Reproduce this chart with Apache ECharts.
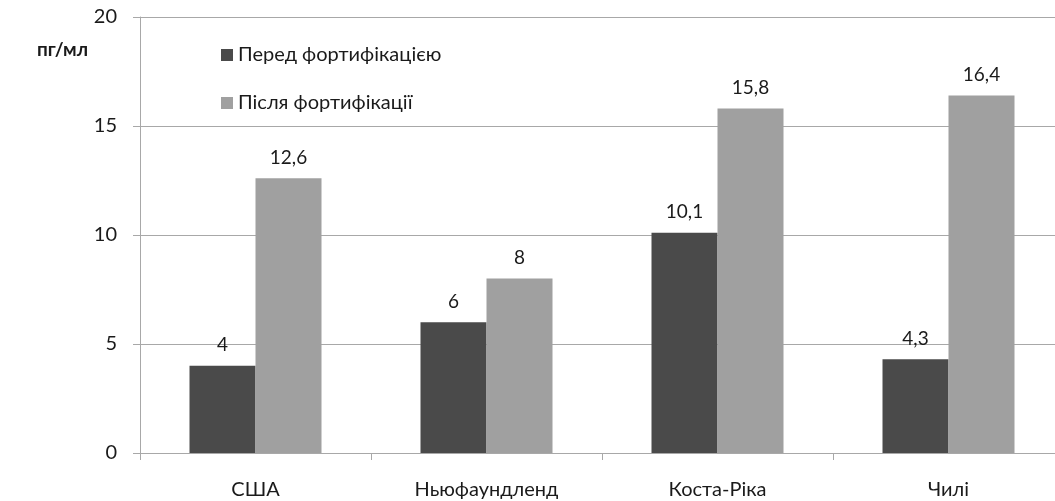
<!DOCTYPE html>
<html>
<head>
<meta charset="utf-8">
<script src="https://cdn.jsdelivr.net/npm/echarts@6/dist/echarts.min.js"></script>
<style>
  html, body { margin: 0; padding: 0; background: #fff; }
  #chart { width: 1055px; height: 501px; }
</style>
</head>
<body>
<div id="chart"></div>
<script>
// Folate levels before and after fortification, pg/ml
const countries = ['США', 'Ньюфаундленд', 'Коста-Ріка', 'Чилі'];
const beforeValues = [4, 6, 10.1, 4.3];
const afterValues = [12.6, 8, 15.8, 16.4];
const seriesNames = ['Перед фортифікацією', 'Після фортифікації'];
const yTicks = { min: 0, max: 20, step: 5 };
const unitLabel = 'пг/мл';

const FONT = 'Lato, "Open Sans", sans-serif';
const GRID_COLOR = '#a8a8a8';
const TEXT_COLOR = '#1a1a1a';

const chart = echarts.init(document.getElementById('chart'), null, { renderer: 'canvas' });

const labelStyle = {
  show: true,
  position: 'top',
  distance: 11,
  fontFamily: FONT,
  fontSize: 19,
  color: TEXT_COLOR,
  formatter: p => String(p.value).replace('.', ',')
};

chart.setOption({
  animation: false,
  backgroundColor: '#fff',
  textStyle: { fontFamily: FONT },
  title: {
    text: unitLabel,
    left: 32,
    top: 35,
    textStyle: { fontFamily: FONT, fontSize: 19, fontWeight: 'bold', color: TEXT_COLOR }
  },
  legend: {
    orient: 'vertical',
    left: 216,
    top: 40,
    itemWidth: 12,
    itemHeight: 12,
    itemGap: 28,
    icon: 'rect',
    textStyle: { fontFamily: FONT, fontSize: 20, lineHeight: 20, color: TEXT_COLOR },
    data: seriesNames
  },
  grid: { left: 140, top: 17, width: 924, height: 436, containLabel: false, outerBoundsMode: 'none' },
  xAxis: {
    type: 'category',
    data: countries,
    axisLine: { show: true, lineStyle: { color: GRID_COLOR, width: 1 } },
    axisTick: { show: true, length: 7, alignWithLabel: false, lineStyle: { color: GRID_COLOR } },
    axisLabel: { fontFamily: FONT, fontSize: 20, color: TEXT_COLOR, margin: 27 }
  },
  yAxis: {
    type: 'value',
    min: yTicks.min,
    max: yTicks.max,
    interval: yTicks.step,
    axisLine: { show: true, lineStyle: { color: GRID_COLOR, width: 1 } },
    axisTick: { show: true, length: 7, lineStyle: { color: GRID_COLOR } },
    axisLabel: { fontFamily: FONT, fontSize: 20, color: TEXT_COLOR, margin: 23 },
    splitLine: { show: true, lineStyle: { color: GRID_COLOR, width: 1 } }
  },
  series: [
    {
      name: seriesNames[0],
      type: 'bar',
      data: beforeValues,
      barWidth: 66,
      barGap: '0%',
      itemStyle: { color: '#4a4a4a' },
      label: labelStyle
    },
    {
      name: seriesNames[1],
      type: 'bar',
      data: afterValues,
      barWidth: 66,
      barGap: '0%',
      itemStyle: { color: '#a0a0a0' },
      label: labelStyle
    }
  ]
});
</script>
</body>
</html>
